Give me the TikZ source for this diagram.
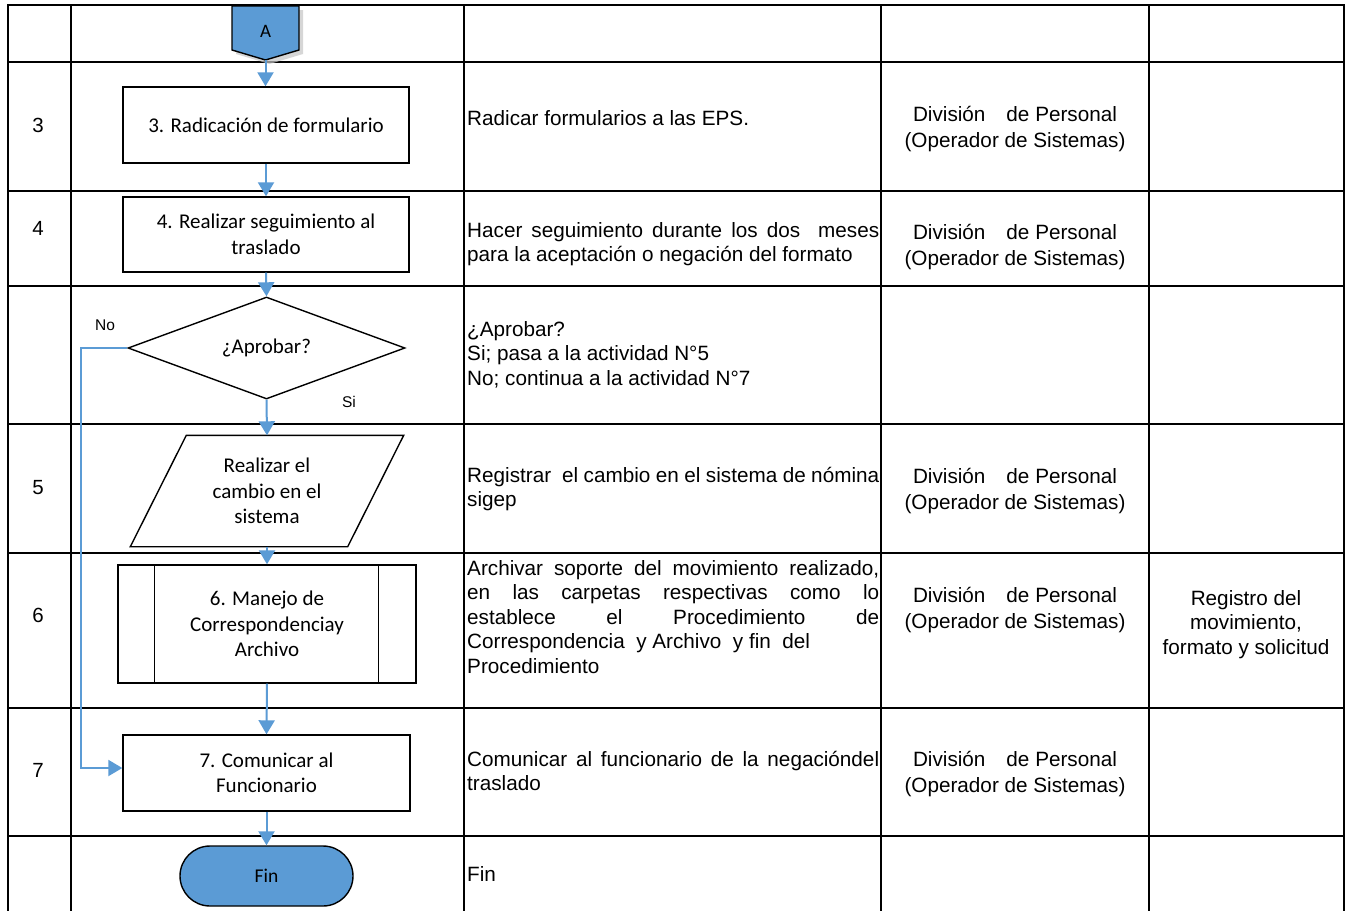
\documentclass[tikz,border=0pt]{standalone}
\usepackage{fontspec}
\setmainfont{Liberation Sans}
\newfontfamily\calfont{Carlito}
\usetikzlibrary{arrows.meta,shapes.geometric}
\definecolor{flowblue}{RGB}{91,155,213}
\newcommand\jline[1]{\makebox[412pt][s]{#1}}
\begin{document}
\begin{tikzpicture}[x=1pt,y=-1pt,
  grid/.style={line width=2.4pt, black, line cap=rect},
  shapebox/.style={draw=black, line width=1.4pt, inner sep=0pt, font=\calfont\fontsize{21}{25.5}\selectfont, align=center},
  conn/.style={draw=flowblue, line width=2pt, -{Triangle[width=16pt,length=14pt]}},
  coltxt/.style={anchor=north west, inner sep=0pt, align=left, font=\fontsize{20.7}{24.5}\selectfont},
  resp/.style={anchor=north, inner sep=0pt, align=center, font=\fontsize{20.7}{26.5}\selectfont},
  regtxt/.style={anchor=north, inner sep=0pt, align=center, font=\fontsize{20.7}{24.5}\selectfont},
  num/.style={anchor=base, inner sep=0pt, font=\fontsize{20.5}{24.5}\selectfont},
  lbl/.style={inner sep=0pt, font=\fontsize{15.5}{18}\selectfont}
]
\useasboundingbox (0,0) rectangle (1346,910);
\fill[white] (0,0) rectangle (1346,910);

% table grid
\foreach \x in {8,71,464,881,1149,1344} \draw[grid] (\x,5) -- (\x,912);
\foreach \y in {5,62,191,286,424,553,708,836} \draw[grid] (8,\y) -- (1344,\y);

% off-page connector A
\fill[gray!45, opacity=.7] (236,10) -- (303,10) -- (303,54) -- (269.5,64) -- (236,54) -- cycle;
\draw[line width=1.4pt, fill=flowblue] (232,6) -- (299,6) -- (299,50) -- (265.5,60) -- (232,50) -- cycle;
\node[font=\calfont\fontsize{19}{22}\selectfont, inner sep=0pt] (A) at (265.5,31) {A};
\coordinate (Atip) at (265.5,60);

% flow shapes
\node[shapebox, minimum width=286pt, minimum height=76pt] (b3) at (266,125) {3. Radicación de formulario};
\node[shapebox, minimum width=286pt, minimum height=75pt] (b4) at (266,234.5) {4. Realizar seguimiento al\\traslado};
\node[shapebox, shape=diamond, aspect=2.7, minimum width=277pt, minimum height=102pt] (d) at (266.5,348) {¿Aprobar?};
\node[shapebox, draw=none, minimum width=216pt, minimum height=110pt] (p5) at (267,491) {Realizar el\\cambio en el\\sistema};
\draw[line width=1.4pt] ([xshift=-28pt]p5.south west) -- ([xshift=28pt]p5.north west) -- ([xshift=28pt]p5.north east) -- ([xshift=-28pt]p5.south east) -- cycle;
\node[shapebox, minimum width=298pt, minimum height=118pt] (b6) at (267,624) {6. Manejo de\\Correspondenciay\\Archivo};
\draw[line width=1.4pt] ([xshift=37pt]b6.north west) -- ([xshift=37pt]b6.south west)
  ([xshift=-38pt]b6.north east) -- ([xshift=-38pt]b6.south east);
\node[shapebox, minimum width=287pt, minimum height=76pt] (b7) at (266.5,773) {7. Comunicar al\\Funcionario};
\node[shapebox, fill=flowblue, rounded corners=30pt, minimum width=173pt, minimum height=60pt, font=\calfont\fontsize{19.5}{22}\selectfont] (fin) at (266.5,876) {Fin};

% connectors
\draw[conn] (Atip) -- (Atip |- b3.north);
\draw[conn] (b3.south) -- (b4.north);
\draw[conn] (b4.south) -- (d.north);
\draw[conn] (d.south) -- (p5.north);
\draw[conn] (p5.south) -- (b6.north);
\draw[conn] (b6.south) -- (b7.north);
\draw[conn] (b7.south) -- (fin.north);
\draw[conn] (d.west) -- ++(-46,0) |- ([yshift=5pt]b7.west);
\node[lbl] (no) at (105,325) {No};
\node[lbl] (si) at (349,402) {Si};

% column 1
\node[num] (n3) at (38,132.5) {3};
\node[num] (n4) at (38,235.5) {4};
\node[num] (n5) at (38,494.5) {5};
\node[num] (n6) at (38,622.5) {6};
\node[num] (n7) at (38,777.5) {7};

% column 3
\node[coltxt] (t3) at (467,107.85) {\strut Radicar formularios a las EPS.};
\node[coltxt] (t4) at (467,219.85) {\strut\jline{Hacer seguimiento durante los dos\ \ meses}\\para la aceptación o negación del formato};
\node[coltxt] (td) at (467,318.85) {\strut ¿Aprobar?\\Si; pasa a la actividad N°5\\No; continua a la actividad N°7};
\node[coltxt] (t5) at (467,464.85) {\strut\jline{Registrar\ \ el cambio en el sistema de nómina}\\sigep};
\node[coltxt] (t6) at (467,557.85) {\strut\jline{Archivar soporte del movimiento realizado,}\\\jline{en las carpetas respectivas como lo}\\\jline{establece el Procedimiento de}\\Correspondencia\ \ y Archivo\ \ y fin\ \ del\\Procedimiento};
\node[coltxt] (t7) at (467,748.85) {\strut\jline{Comunicar al funcionario de la negacióndel}\\traslado};
\node[coltxt] (tf) at (467,863.85) {\strut Fin};

% column 4
\node[resp] (r3) at (1015,102.45) {\strut División\hspace{21pt}de Personal\\(Operador de Sistemas)};
\node[resp] (r4) at (1015,220.45) {\strut División\hspace{21pt}de Personal\\(Operador de Sistemas)};
\node[resp] (r5) at (1015,464.45) {\strut División\hspace{21pt}de Personal\\(Operador de Sistemas)};
\node[resp] (r6) at (1015,583.45) {\strut División\hspace{21pt}de Personal\\(Operador de Sistemas)};
\node[resp] (r7) at (1015,747.45) {\strut División\hspace{21pt}de Personal\\(Operador de Sistemas)};

% column 5
\node[regtxt] (reg) at (1246,587.85) {\strut Registro del\\movimiento,\\formato y solicitud};
\end{tikzpicture}
\end{document}
